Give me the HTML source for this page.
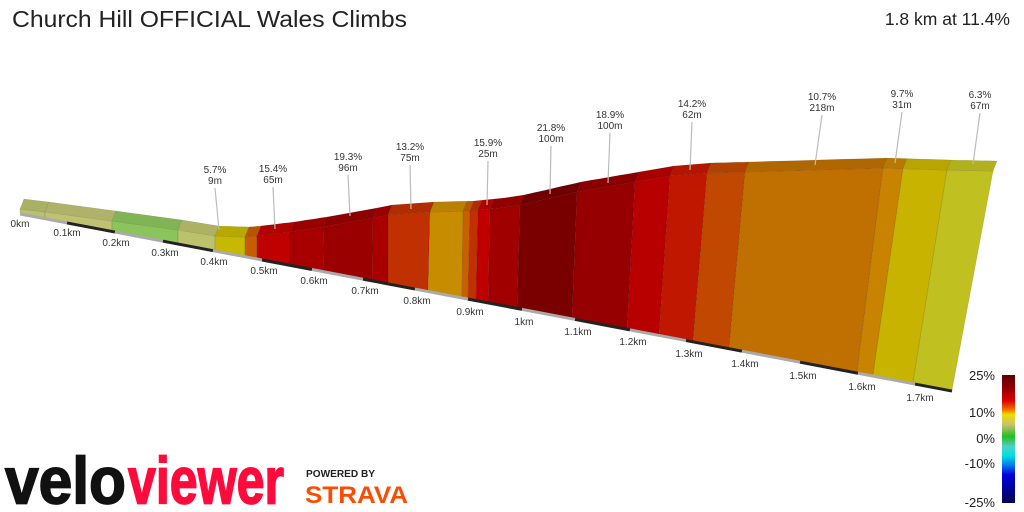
<!DOCTYPE html>
<html><head><meta charset="utf-8"><style>
html,body{margin:0;padding:0;background:#fff;width:1024px;height:512px;overflow:hidden}
svg{display:block;font-family:"Liberation Sans",sans-serif}
</style></head><body>
<svg id="s" width="1024" height="512" viewBox="0 0 1024 512" xmlns="http://www.w3.org/2000/svg">
<defs>
<linearGradient id="cb" x1="0" y1="0" x2="0" y2="1">
<stop offset="0" stop-color="#5a0000"/>
<stop offset="0.12" stop-color="#a00000"/>
<stop offset="0.2" stop-color="#e00000"/>
<stop offset="0.27" stop-color="#f07000"/>
<stop offset="0.31" stop-color="#e8e000"/>
<stop offset="0.39" stop-color="#c8c070"/>
<stop offset="0.48" stop-color="#20c020"/>
<stop offset="0.56" stop-color="#50d0c8"/>
<stop offset="0.63" stop-color="#00e0e0"/>
<stop offset="0.7" stop-color="#0080f0"/>
<stop offset="0.78" stop-color="#0000e0"/>
<stop offset="1" stop-color="#000050"/>
</linearGradient>
</defs>
<text x="12" y="27" font-size="23" fill="#222" textLength="395" lengthAdjust="spacingAndGlyphs">Church Hill OFFICIAL Wales Climbs</text>
<text x="1010" y="25" font-size="17.5" fill="#222" text-anchor="end">1.8 km at 11.4%</text>
<g id="chart"></g>
<rect x="1002" y="375" width="13" height="128" fill="url(#cb)"/>
<g font-size="13" fill="#222" text-anchor="end">
<text x="995" y="380">25%</text><text x="995" y="417">10%</text><text x="995" y="443">0%</text><text x="995" y="468">-10%</text><text x="995" y="507">-25%</text>
</g>
<text x="5" y="503" font-size="60" font-weight="bold" fill="#111" stroke="#111" stroke-width="1.5" textLength="121" lengthAdjust="spacingAndGlyphs" transform="translate(0,-50) scale(1,1.1)">velo</text>
<text x="128" y="503" font-size="60" font-weight="bold" fill="#ff0a3c" stroke="#ff0a3c" stroke-width="1.5" textLength="156" lengthAdjust="spacingAndGlyphs" transform="translate(0,-50) scale(1,1.1)">viewer</text>
<text x="306" y="477" font-size="10.5" font-weight="bold" fill="#222" textLength="69" lengthAdjust="spacingAndGlyphs">POWERED BY</text>
<text x="305" y="503" font-size="24" font-weight="bold" fill="#fc4c02" textLength="103" lengthAdjust="spacingAndGlyphs">STRAVA</text>
</svg>
<script>
(function(){
var tp=[[20,209],[45,212],[112,221],[178,230],[215,236],[245,237],[257,236],[290,232],[323,227],[373,218],[388,215],[430,212],[470,211],[500,208],[520,205],[577,192],[635,182],[670,176],[707,173],[745,172],[883,168],[947,170],[993,171]];
function ftop(x){for(var i=0;i<tp.length-1;i++){if(x<=tp[i+1][0]){var a=tp[i],b=tp[i+1];return a[1]+(b[1]-a[1])*(x-a[0])/(b[0]-a[0]);}}return tp[tp.length-1][1];}
function base(x){return 213+(x-20)*0.19;}
var seg=[[20,20,45,45,'#b9c06e'],[45,45,112,112,'#c0c272'],[112,112,178,178,'#8cc45c'],[178,178,215,215,'#bcc26c'],[215,215,245,245,'#c8b800'],[245,245,257,257,'#c85c00'],[257,257,290,290,'#c00000'],[290,290,323,324,'#a80000'],[323,324,373,372,'#9a0000'],[373,372,388,388,'#a80000'],[388,388,430,428,'#c03000'],[430,428,463,462,'#c88c00'],[463,462,470,468,'#c86000'],[470,468,478,476,'#c03000'],[478,476,490,488,'#c00000'],[490,488,520,517,'#a00000'],[520,517,577,572,'#7a0000'],[577,572,635,627,'#960000'],[635,627,670,659,'#b80000'],[670,659,707,693,'#c01800'],[707,693,745,729,'#c04800'],[745,729,883,857,'#c07000'],[883,857,903,873,'#c88400'],[903,873,947,913,'#c8b400'],[947,913,993,952,'#c0c020']];
var h='';var ox=4,oy=-10;
seg.forEach(function(s){
 var t1=s[0],b1=s[1],t2=s[2],b2=s[3],c=s[4];
 var pts=[];var n=6;
 for(var k=0;k<=n;k++){var x=t1+(t2-t1)*k/n;pts.push(x.toFixed(1)+','+ftop(x).toFixed(1));}
 pts.push(b2+','+base(b2).toFixed(1));pts.push(b1+','+base(b1).toFixed(1));
 h+='<polygon points="'+pts.join(' ')+'" fill="'+c+'" stroke="rgba(0,0,0,0.12)" stroke-width="0.8"/>';
 var tf=[];
 for(var k=0;k<=n;k++){var x=t1+(t2-t1)*k/n;tf.push(x.toFixed(1)+','+ftop(x).toFixed(1));}
 for(var k=n;k>=0;k--){var x=t1+(t2-t1)*k/n;tf.push((x+ox).toFixed(1)+','+(ftop(x)+oy).toFixed(1));}
 h+='<polygon points="'+tf.join(' ')+'" fill="'+c+'"/><polygon points="'+tf.join(' ')+'" fill="rgba(0,0,0,0.08)" stroke="rgba(0,0,0,0.12)" stroke-width="0.6"/>';
});
var tx=[20,67,115,163,213,262,312,363,415,468,522,575,630,686,742,800,858,915,952];
for(var i=0;i<tx.length-1;i++){var a=tx[i],b=tx[i+1];h+='<line x1="'+a+'" y1="'+(base(a)+1)+'" x2="'+b+'" y2="'+(base(b)+1)+'" stroke="'+(i%2?'#222':'#aaa')+'" stroke-width="3"/>';}
var lab=[['0km',20,227],['0.1km',67,236],['0.2km',116,246],['0.3km',165,256],['0.4km',214,265],['0.5km',264,274],['0.6km',314,284],['0.7km',365,294],['0.8km',417,304],['0.9km',470,315],['1km',524,325],['1.1km',578,335],['1.2km',633,345],['1.3km',689,357],['1.4km',745,367],['1.5km',803,379],['1.6km',862,390],['1.7km',920,401]];
lab.forEach(function(l){h+='<text x="'+l[1]+'" y="'+l[2]+'" font-size="10" fill="#333" text-anchor="middle">'+l[0]+'</text>';});
var an=[['5.7%','9m',215,173,219,230],['15.4%','65m',273,172,275,229],['19.3%','96m',348,160,350,216],['13.2%','75m',410,150,411,209],['15.9%','25m',488,146,487,205],['21.8%','100m',551,131,550,194],['18.9%','100m',610,118,608,183],['14.2%','62m',692,107,690,170],['10.7%','218m',822,100,815,165],['9.7%','31m',902,97,895,163],['6.3%','67m',980,98,973,164]];
an.forEach(function(a){h+='<text x="'+a[2]+'" y="'+a[3]+'" font-size="10" fill="#333" text-anchor="middle">'+a[0]+'</text><text x="'+a[2]+'" y="'+(a[3]+11)+'" font-size="10" fill="#333" text-anchor="middle">'+a[1]+'</text><line x1="'+a[2]+'" y1="'+(a[3]+15)+'" x2="'+a[4]+'" y2="'+a[5]+'" stroke="#bbb" stroke-width="1.2"/>';});
document.getElementById('chart').innerHTML=h;
})();
</script>
</body></html>
